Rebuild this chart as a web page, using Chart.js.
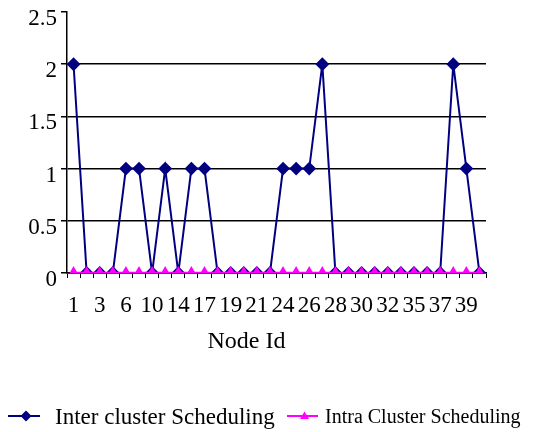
<!DOCTYPE html>
<html>
<head>
<meta charset="utf-8">
<script src="https://cdn.jsdelivr.net/npm/chart.js@4"></script>
<style>
  html, body { margin: 0; padding: 0; background: #fff; }
  #wrap { width: 536px; height: 432px; }
</style>
</head>
<body>
<div id="wrap"><canvas id="nodeChart" width="536" height="432"></canvas></div>
<script>
// node ids (only every other one is printed on the axis)
var nodeIds = [1, 2, 3, 4, 6, 8, 10, 12, 14, 15, 17, 18, 19, 20, 21, 22,
               24, 25, 26, 27, 28, 29, 30, 31, 32, 33, 35, 36, 37, 38, 39, 40];
var interCluster = [2, 0, 0, 0, 1, 1, 0, 1, 0, 1, 1, 0, 0, 0, 0, 0,
                    1, 1, 1, 2, 0, 0, 0, 0, 0, 0, 0, 0, 0, 2, 1, 0];
var intraCluster = [0, 0, 0, 0, 0, 0, 0, 0, 0, 0, 0, 0, 0, 0, 0, 0,
                    0, 0, 0, 0, 0, 0, 0, 0, 0, 0, 0, 0, 0, 0, 0, 0];
var yTicks = [0, 0.5, 1, 1.5, 2, 2.5];

var serif = "'Liberation Serif', 'Times New Roman', serif";

// Excel style legend: short line with the marker, two different text sizes
var bottomLegend = {
    id: 'bottomLegend',
    afterDraw: function (chart) {
        var ctx = chart.ctx;
        var items = [
            { ds: chart.data.datasets[0], x0: 8, x1: 40, tx: 55, size: 23, style: 'diamond' },
            { ds: chart.data.datasets[1], x0: 287, x1: 318, tx: 325, size: 20, style: 'triangle' }
        ];
        var y = 416;
        items.forEach(function (it) {
            ctx.save();
            ctx.strokeStyle = it.ds.borderColor;
            ctx.lineWidth = 2;
            ctx.beginPath();
            ctx.moveTo(it.x0, y);
            ctx.lineTo(it.x1, y);
            ctx.stroke();
            var cx = (it.x0 + it.x1) / 2 + 2;
            ctx.fillStyle = it.ds.pointBackgroundColor;
            ctx.beginPath();
            if (it.style === 'diamond') {
                ctx.moveTo(cx, y - 5.5);
                ctx.lineTo(cx + 5.5, y);
                ctx.lineTo(cx, y + 5.5);
                ctx.lineTo(cx - 5.5, y);
            } else {
                ctx.moveTo(cx, y - 4.5);
                ctx.lineTo(cx + 4.5, y + 3);
                ctx.lineTo(cx - 4.5, y + 3);
            }
            ctx.closePath();
            ctx.fill();
            ctx.fillStyle = '#000';
            ctx.font = it.size + "px " + serif;
            ctx.textBaseline = 'middle';
            ctx.fillText(it.ds.label, it.tx, y + 2);
            ctx.restore();
        });
    }
};

var ctx = document.getElementById('nodeChart').getContext('2d');
var nodeChart = new Chart(ctx, {
    type: 'line',
    data: {
        labels: nodeIds,
        datasets: [{
            label: 'Inter cluster Scheduling',
            data: interCluster,
            borderColor: '#000080',
            backgroundColor: '#000080',
            pointBackgroundColor: '#000080',
            pointBorderColor: '#000080',
            pointStyle: 'rectRot',
            pointRadius: 5.5,
            borderWidth: 2,
            tension: 0,
            order: 1
        }, {
            label: 'Intra Cluster Scheduling',
            data: intraCluster,
            borderColor: '#FF00FF',
            backgroundColor: '#FF00FF',
            pointBackgroundColor: '#FF00FF',
            pointBorderColor: '#FF00FF',
            pointStyle: 'triangle',
            pointRadius: 4.5,
            borderWidth: 2.5,
            tension: 0,
            order: 0
        }]
    },
    options: {
        responsive: false,
        animation: false,
        layout: { padding: { left: 0, right: 50, top: 12, bottom: 72 } },
        plugins: {
            legend: { display: false },
            tooltip: { enabled: false }
        },
        scales: {
            x: {
                offset: true,
                grid: {
                    offset: true,
                    drawOnChartArea: false,
                    color: '#000',
                    tickLength: 5,
                    lineWidth: 1
                },
                border: { color: '#000', width: 1.5 },
                ticks: {
                    autoSkip: false,
                    maxRotation: 0,
                    minRotation: 0,
                    padding: 14,
                    color: '#000',
                    font: { family: serif, size: 23 },
                    callback: function (val, i) {
                        return i % 2 === 0 ? this.getLabelForValue(val) : '';
                    }
                },
                title: {
                    display: true,
                    text: 'Node Id' + '\u00a0'.repeat(10),
                    color: '#000',
                    font: { family: serif, size: 24 }
                },
                afterFit: function (scale) { scale.height = 87; }
            },
            y: {
                min: 0,
                max: 2.5,
                afterBuildTicks: function (scale) {
                    scale.ticks = yTicks.map(function (v) { return { value: v }; });
                },
                grid: {
                    color: function (c) {
                        return c.tick && c.tick.value === 2.5 ? 'rgba(0,0,0,0)' : '#000';
                    },
                    tickColor: '#000',
                    lineWidth: 1.5,
                    tickLength: 6
                },
                border: { color: '#000', width: 1.5 },
                ticks: {
                    padding: 4,
                    labelOffset: 7,
                    color: '#000',
                    font: { family: serif, size: 23, lineHeight: 0.7 },
                    callback: function (val) { return String(val); }
                },
                afterFit: function (scale) { scale.width = 67; }
            }
        }
    },
    plugins: [bottomLegend]
});
</script>
</body>
</html>
